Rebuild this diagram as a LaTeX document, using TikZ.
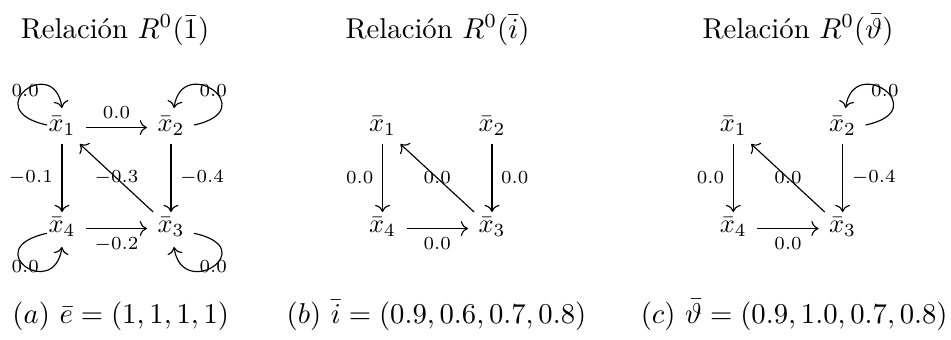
\documentclass[tikz,border=0pt]{standalone}
\usetikzlibrary{arrows.meta}
\newcommand\vtx[1]{\scalebox{0.92}{$\bar x_{#1}\rule[-3pt]{0pt}{8pt}$}}
\newcommand\elab[1]{\scalebox{0.92}{$\scriptstyle #1$}}
\begin{document}
\begin{tikzpicture}[x=0.34843pt,y=-0.34843pt,
  vx/.style={inner xsep=3.5pt, inner ysep=1.56pt},
  lbl/.style={inner sep=3pt},
  onl/.style={inner sep=0pt},
  arr/.style={-{Computer Modern Rightarrow}, line width=0.4pt},
  ttl/.style={anchor=base, inner sep=0pt}]
\useasboundingbox (0,0) rectangle (951,339);
% titles
\node[ttl] (t1) at (115,38.3) {Relación $R^0(\bar 1)$};
\node[ttl] (t2) at (437.5,38.3) {Relación $R^0(\bar i)$};
\node[ttl] (t3) at (798,38.3) {Relación $R^0(\bar\vartheta)$};
% captions
\node[ttl] (k1) at (120.8,323.3) {$(a)$ $\bar e=(1,1,1,1)$};
\node[ttl] (k2) at (436.5,323.3) {$(b)$ $\bar i=(0.9,0.6,0.7,0.8)$};
\node[ttl] (k3) at (794.2,323.3) {$(c)$ $\bar\vartheta=(0.9,1.0,0.7,0.8)$};
% graph 1
\node[vx] (a1) at (62,127.5) {\vtx{1}};
\node[vx] (a2) at (171,127.5) {\vtx{2}};
\node[vx] (a4) at (62,228.5) {\vtx{4}};
\node[vx] (a3) at (171,228.5) {\vtx{3}};
\draw[arr] (a1) -- node[lbl,above]{\elab{0.0}} (a2);
\draw[arr] (a1) -- node[lbl,left]{\elab{-0.1}} (a4);
\draw[arr] (a2) -- node[lbl,right]{\elab{-0.4}} (a3);
\draw[arr] (a4) -- node[lbl,below]{\elab{-0.2}} (a3);
\draw[arr] (a3) -- node[onl]{\elab{-0.3}} (a1);
\draw[arr] ([shift={(-15,-2.5)}]a1.center) .. controls +(-70,-15) and +(-8,-55) .. node[onl,pos=0.5]{\elab{0.0}} ([shift={(0,-19.5)}]a1.center);
\draw[arr] ([shift={(23,-2.5)}]a2.center) .. controls +(70,-15) and +(8,-55) .. node[onl,pos=0.5]{\elab{0.0}} ([shift={(3,-19.5)}]a2.center);
\draw[arr] ([shift={(-15,4.8)}]a4.center) .. controls +(-70,15) and +(-8,55) .. node[onl,pos=0.5]{\elab{0.0}} ([shift={(0,18.5)}]a4.center);
\draw[arr] ([shift={(23,4.8)}]a3.center) .. controls +(70,15) and +(8,55) .. node[onl,pos=0.5]{\elab{0.0}} ([shift={(3,18.5)}]a3.center);
% graph 2
\node[vx] (b1) at (382.5,127.5) {\vtx{1}};
\node[vx] (b2) at (492,127.5) {\vtx{2}};
\node[vx] (b4) at (382.5,228.5) {\vtx{4}};
\node[vx] (b3) at (492,228.5) {\vtx{3}};
\draw[arr] (b1) -- node[lbl,left]{\elab{0.0}} (b4);
\draw[arr] (b2) -- node[lbl,right]{\elab{0.0}} (b3);
\draw[arr] (b4) -- node[lbl,below]{\elab{0.0}} (b3);
\draw[arr] (b3) -- node[onl]{\elab{0.0}} (b1);
% graph 3
\node[vx] (c1) at (733.3,127.5) {\vtx{1}};
\node[vx] (c2) at (842.6,127.5) {\vtx{2}};
\node[vx] (c4) at (733.3,228.5) {\vtx{4}};
\node[vx] (c3) at (842.6,228.5) {\vtx{3}};
\draw[arr] (c1) -- node[lbl,left]{\elab{0.0}} (c4);
\draw[arr] (c2) -- node[lbl,right]{\elab{-0.4}} (c3);
\draw[arr] (c4) -- node[lbl,below]{\elab{0.0}} (c3);
\draw[arr] (c3) -- node[onl]{\elab{0.0}} (c1);
\draw[arr] ([shift={(23,-2.5)}]c2.center) .. controls +(70,-15) and +(8,-55) .. node[onl,pos=0.5]{\elab{0.0}} ([shift={(3,-19.5)}]c2.center);
\end{tikzpicture}
\end{document}
